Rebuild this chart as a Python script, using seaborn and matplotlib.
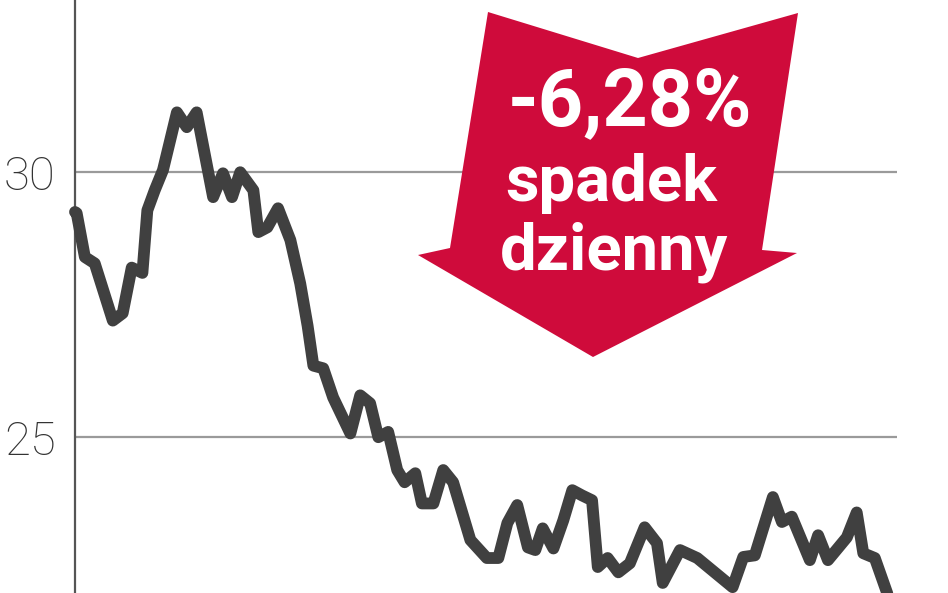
import matplotlib
matplotlib.use("Agg")
import matplotlib.pyplot as plt
import pandas as pd
import seaborn as sns
from matplotlib.patches import Polygon

# session index (0-100) and closing price
sesja = [0, 0.2, 1.2, 2.4, 4.6, 5.8, 6.9, 8.2, 8.8, 9.7, 10.7, 12.4, 13.6, 14.8,
         16.8, 18.0, 19.1, 20.1, 21.7, 22.3, 23.4, 24.7, 26.2, 27.4, 28.3, 29.0,
         30.2, 31.4, 33.5, 34.7, 35.9, 36.9, 38.1, 39.2, 40.1, 41.4, 42.2, 43.6,
         44.8, 46.0, 48.1, 50.1, 51.5, 52.6, 53.8, 55.1, 56.0, 56.9, 58.2, 59.4,
         60.5, 61.7, 62.9, 63.6, 64.8, 66.1, 67.5, 69.3, 70.8, 71.5, 73.6, 75.7,
         80.0, 81.3, 82.7, 84.9, 86.0, 87.2, 89.4, 90.4, 91.6, 93.9, 95.1, 95.9,
         97.3, 98.8, 99.4]
kurs = [29.25, 29.23, 28.4, 28.28, 27.2, 27.34, 28.2, 28.1, 29.28, 29.66, 30.04,
        31.13, 30.85, 31.13, 29.53, 29.98, 29.53, 30.0, 29.66, 28.87, 28.96, 29.32,
        28.72, 27.9, 27.1, 26.35, 26.3, 25.75, 25.07, 25.79, 25.64, 25.0, 25.1,
        24.38, 24.15, 24.32, 23.75, 23.75, 24.38, 24.15, 23.06, 22.72, 22.72,
        23.38, 23.72, 22.92, 22.87, 23.28, 22.9, 23.43, 24.0, 23.9, 23.81, 22.55,
        22.72, 22.45, 22.62, 23.3, 23.0, 22.25, 22.87, 22.72, 22.17, 22.74, 22.77,
        23.87, 23.4, 23.5, 22.68, 23.15, 22.68, 23.11, 23.58, 22.81, 22.72, 22.06,
        21.6]
y_ticks = [25, 30]
y_labels = ["25", "30"]

df = pd.DataFrame({"sesja": sesja, "kurs": kurs})

sns.set_style("white")
plt.rcParams["font.family"] = ["Roboto", "DejaVu Sans"]

fig = plt.figure(figsize=(9.48, 5.93), dpi=100)
ax = fig.add_axes([75 / 948, 0, 822 / 948, 1])

sns.lineplot(data=df, x="sesja", y="kurs", color="#404040", linewidth=8.5,
             solid_capstyle="round", solid_joinstyle="round", ax=ax, zorder=3)
for ln in ax.lines:
    ln.set_clip_on(False)

ax.set_xlim(0, 100)
ax.set_ylim(22.06, 33.25)
ax.set_yticks(y_ticks)
ax.set_yticklabels(y_labels, fontsize=34, color="#333333", fontweight="light")
ax.tick_params(axis="y", length=0, pad=14)
ax.set_xticks([])
ax.set_xlabel("")
ax.set_ylabel("")
ax.yaxis.grid(True, color="#9a9a9a", linewidth=1.6)
ax.set_axisbelow(True)
for s in ["top", "right", "bottom"]:
    ax.spines[s].set_visible(False)
ax.spines["left"].set_color("#555555")
ax.spines["left"].set_linewidth(1.6)

# red arrow badge (pixel outline -> figure fraction)
arrow_px = [(488, 12), (638, 58), (798, 13), (762, 250), (797, 253),
            (593, 357), (418, 255), (450, 248)]
arrow = Polygon([(x / 948, 1 - y / 593) for x, y in arrow_px], closed=True,
                transform=fig.transFigure, facecolor="#cf0b3b", edgecolor="none",
                zorder=5)
fig.patches.append(arrow)

fig.text(630 / 948, 1 - 104 / 593, "-6,28%", ha="center", va="center",
         color="white", fontsize=57, fontweight="bold", zorder=6)
fig.text(611 / 948, 1 - 184 / 593, "spadek", ha="center", va="center",
         color="white", fontsize=47, fontweight="bold", zorder=6)
fig.text(614 / 948, 1 - 252 / 593, "dzienny", ha="center", va="center",
         color="white", fontsize=47, fontweight="bold", zorder=6)

fig.savefig("out.png", dpi=100)
